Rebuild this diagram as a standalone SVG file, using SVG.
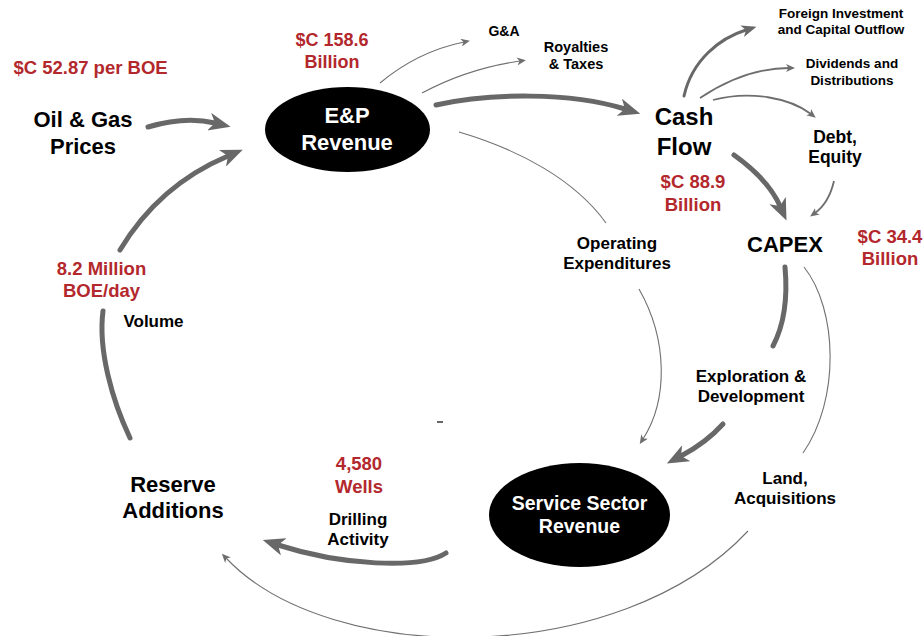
<svg xmlns="http://www.w3.org/2000/svg" width="924" height="636" viewBox="0 0 924 636">
<style>
text{font-family:"Liberation Sans",Arial,sans-serif;font-weight:bold;text-anchor:middle}
.red{fill:#b3282d}
.blk{fill:#000}
.wht{fill:#fff}
.thick{fill:none;stroke:#686868;stroke-width:5;stroke-linecap:round}
.med{fill:none;stroke:#686868;stroke-width:3;stroke-linecap:round}
.thin2{fill:none;stroke:#6e6e6e;stroke-width:1.8}
.thin{fill:none;stroke:#707070;stroke-width:1.1}
</style>
<defs>
<marker id="big" viewBox="0 0 22 18" refX="6" refY="9" markerWidth="22" markerHeight="18" markerUnits="userSpaceOnUse" orient="auto"><path d="M0,0 L22,9 L0,18 L6,9 z" fill="#686868"/></marker>
<marker id="mid" viewBox="0 0 15 12" refX="4" refY="6" markerWidth="15" markerHeight="12" markerUnits="userSpaceOnUse" orient="auto"><path d="M0,0 L15,6 L0,12 L4,6 z" fill="#686868"/></marker>
<marker id="small" viewBox="0 0 9 8" refX="3" refY="4" markerWidth="9" markerHeight="8" markerUnits="userSpaceOnUse" orient="auto"><path d="M0,0 L9,4 L0,8 L2.5,4 z" fill="#6e6e6e"/></marker>
</defs>
<rect width="924" height="636" fill="#fff"/>

<g id="connectors">
<path class="thick" d="M148,127 Q185,116 215,123" marker-end="url(#big)"/>
<path class="thick" d="M130,438 C112,400 98,350 103,311"/>
<path class="thick" d="M120,250 C150,200 190,172 228,156" marker-end="url(#big)"/>
<path class="thick" d="M436,105 C490,93 570,92 625,109" marker-end="url(#big)"/>
<path class="thin" d="M380,83 C405,62 435,48 464,42" marker-end="url(#small)"/>
<path class="thin" d="M422,93 C450,78 485,66 520,61" marker-end="url(#small)"/>
<path class="thin" d="M459,132 C520,150 575,180 606,223"/>
<path class="thin" d="M639,289 C668,340 668,400 643,439" marker-end="url(#small)"/>
<path class="thick" d="M734,155 C755,170 772,188 780,206" marker-end="url(#big)"/>
<path class="med" d="M684,96 C692,60 720,38 746,30" marker-end="url(#mid)"/>
<path class="thin2" d="M700,98 C730,78 760,68 789,68" marker-end="url(#small)"/>
<path class="thin2" d="M713,100 C750,90 790,98 811,114" marker-end="url(#small)"/>
<path class="thin2" d="M834,181 C830,198 822,208 815,213" marker-end="url(#small)"/>
<path class="thick" d="M785,267 C788,300 784,325 773,346"/>
<path class="thick" d="M723,424 C714,434 700,446 681,456" marker-end="url(#big)"/>
<path class="thin" d="M804,267 C838,310 840,400 803,453"/>
<path class="thin" d="M748,531 C620,668 330,668 226,558" marker-end="url(#small)"/>
<path class="thick" d="M446,553 C420,570 340,565 278,545" marker-end="url(#big)"/>
<line x1="437" y1="422" x2="443" y2="422" stroke="#000" stroke-width="1.2"/>
</g>

<g id="oil-gas-prices">
<text class="red" x="90.5" y="74" font-size="18.5">$C 52.87 per BOE</text>
<text class="blk" x="83" y="127" font-size="22">Oil &amp; Gas</text>
<text class="blk" x="83" y="154" font-size="22">Prices</text>
</g>

<g id="ep-revenue">
<text class="red" x="332" y="46" font-size="18">$C 158.6</text>
<text class="red" x="332" y="68" font-size="18">Billion</text>
<ellipse cx="347.5" cy="129.5" rx="82.5" ry="42.5" fill="#000"/>
<text class="wht" x="347" y="123" font-size="22">E&amp;P</text>
<text class="wht" x="347" y="150" font-size="22">Revenue</text>
</g>

<g id="ga">
<text class="blk" x="504" y="36" font-size="14">G&amp;A</text>
</g>

<g id="royalties">
<text class="blk" x="576" y="52" font-size="14.5">Royalties</text>
<text class="blk" x="576" y="69" font-size="14.5">&amp; Taxes</text>
</g>

<g id="cash-flow">
<text class="blk" x="684" y="125" font-size="24">Cash</text>
<text class="blk" x="684" y="155" font-size="24">Flow</text>
<text class="red" x="693" y="188" font-size="18.5">$C 88.9</text>
<text class="red" x="693" y="211" font-size="18.5">Billion</text>
</g>

<g id="foreign-investment">
<text class="blk" x="841" y="18" font-size="13.5">Foreign Investment</text>
<text class="blk" x="841" y="34" font-size="13.5">and Capital Outflow</text>
</g>

<g id="dividends">
<text class="blk" x="852" y="68" font-size="13.5">Dividends and</text>
<text class="blk" x="852" y="85" font-size="13.5">Distributions</text>
</g>

<g id="debt-equity">
<text class="blk" x="835" y="143" font-size="17.5">Debt,</text>
<text class="blk" x="835" y="163" font-size="17.5">Equity</text>
</g>

<g id="capex">
<text class="blk" x="785" y="252" font-size="22">CAPEX</text>
<text class="red" x="890" y="243" font-size="18.5">$C 34.4</text>
<text class="red" x="890" y="265" font-size="18.5">Billion</text>
</g>

<g id="operating-expenditures">
<text class="blk" x="617" y="249" font-size="17">Operating</text>
<text class="blk" x="617" y="269" font-size="17">Expenditures</text>
</g>

<g id="exploration-development">
<text class="blk" x="751" y="382" font-size="17">Exploration &amp;</text>
<text class="blk" x="751" y="402" font-size="17">Development</text>
</g>

<g id="land-acquisitions">
<text class="blk" x="785" y="484" font-size="17">Land,</text>
<text class="blk" x="785" y="504" font-size="17">Acquisitions</text>
</g>

<g id="service-sector-revenue">
<ellipse cx="579.5" cy="515" rx="90.5" ry="52" fill="#000"/>
<text class="wht" x="579.5" y="510" font-size="19.5">Service Sector</text>
<text class="wht" x="579.5" y="533" font-size="19.5">Revenue</text>
</g>

<g id="drilling-activity">
<text class="red" x="359" y="470" font-size="18.5">4,580</text>
<text class="red" x="359" y="493" font-size="18.5">Wells</text>
<text class="blk" x="358" y="525" font-size="17">Drilling</text>
<text class="blk" x="358" y="545" font-size="17">Activity</text>
</g>

<g id="reserve-additions">
<text class="blk" x="173" y="492" font-size="22">Reserve</text>
<text class="blk" x="173" y="518" font-size="22">Additions</text>
</g>

<g id="volume">
<text class="red" x="101.5" y="275" font-size="18.5">8.2 Million</text>
<text class="red" x="101.5" y="297" font-size="18.5">BOE/day</text>
<text class="blk" x="153.5" y="327" font-size="17">Volume</text>
</g>
</svg>
